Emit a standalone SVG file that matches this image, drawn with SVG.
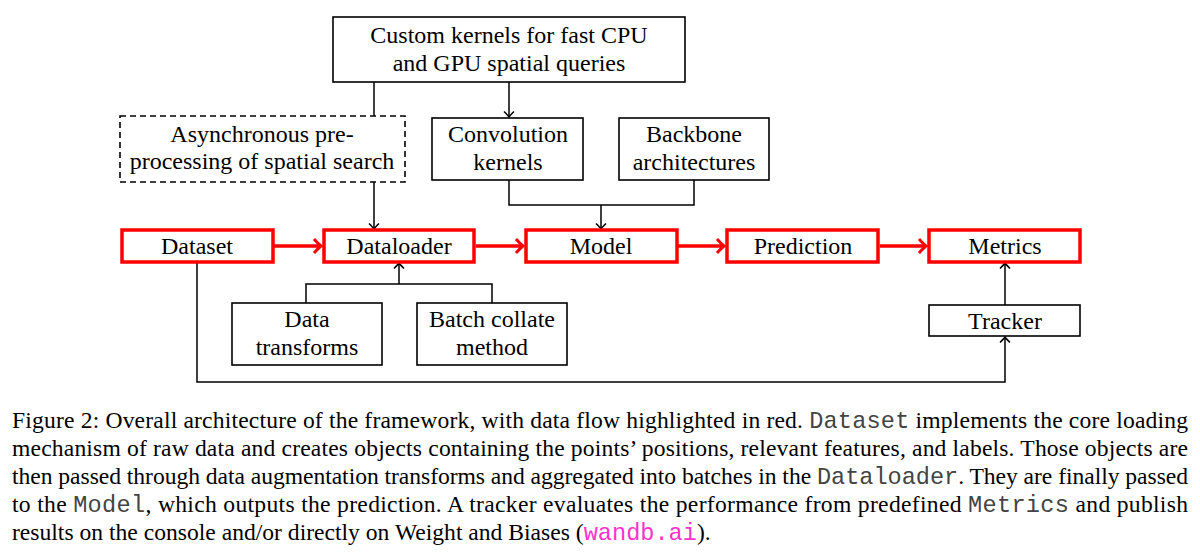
<svg xmlns="http://www.w3.org/2000/svg" width="1200" height="560" viewBox="0 0 1200 560">
<style>
.box{fill:#fff;stroke:#000;stroke-width:1.6}
.dash{fill:#fff;stroke:#000;stroke-width:1.6;stroke-dasharray:6 4}
.red{fill:#fff;stroke:#ff0000;stroke-width:3.5}
.t{font-family:"Liberation Serif","Times New Roman",serif;font-size:24px;fill:#000;text-anchor:middle}
.c{font-family:"Liberation Serif","Times New Roman",serif;font-size:23.6px;fill:#000}
.m{font-family:"Liberation Mono","Courier New",monospace;fill:#444}
.pk{fill:#ff33cc}
.bl{fill:none;stroke:#000;stroke-width:1.5}
.rl{fill:none;stroke:#ff0000;stroke-width:3.5}
</style>
<defs>
<marker id="ab" markerUnits="userSpaceOnUse" markerWidth="14" markerHeight="14" viewBox="-8 -7 10 14" refX="0" refY="0" orient="auto">
<path d="M-5.5,-5 Q-1.5,-1 0,0 Q-1.5,1 -5.5,5" fill="none" stroke="#000" stroke-width="1.5"/>
</marker>
<marker id="ar" markerUnits="userSpaceOnUse" markerWidth="16" markerHeight="18" viewBox="-10 -9 12 18" refX="0" refY="0" orient="auto">
<path d="M-7,-7 Q-2,-1.5 0,0 Q-2,1.5 -7,7" fill="none" stroke="#ff0000" stroke-width="3"/>
</marker>
</defs>
<rect width="1200" height="560" fill="#fff"/>
<g id="connectors">
<path class="bl" d="M374,82 V116"/>
<path class="bl" d="M374,182 V229" marker-end="url(#ab)"/>
<path class="bl" d="M509,82 V117" marker-end="url(#ab)"/>
<path class="bl" d="M509,180 V205 H694 V180 M601,205 V229" marker-end="url(#ab)"/>
<path class="bl" d="M306,303 V284 H492 V303 M399,284 V263" marker-end="url(#ab)"/>
<path class="bl" d="M197,262 V382 H1005 V337" marker-end="url(#ab)"/>
<path class="bl" d="M1005,305 V263" marker-end="url(#ab)"/>
<path class="rl" d="M274,246 H321" marker-end="url(#ar)"/>
<path class="rl" d="M476,246 H523" marker-end="url(#ar)"/>
<path class="rl" d="M678,246 H724" marker-end="url(#ar)"/>
<path class="rl" d="M880,246 H926" marker-end="url(#ar)"/>
</g>
<g id="custom"><rect class="box" x="333" y="17" width="352" height="65"/>
<text class="t" x="509" y="43">Custom kernels for fast CPU</text><text class="t" x="509" y="71">and GPU spatial queries</text></g>
<g id="async"><rect class="dash" x="120" y="116" width="285" height="66"/>
<text class="t" x="262" y="142">Asynchronous pre-</text><text class="t" x="262" y="169">processing of spatial search</text></g>
<g id="conv"><rect class="box" x="432" y="118" width="151" height="62"/>
<text class="t" x="508" y="142">Convolution</text><text class="t" x="508" y="170">kernels</text></g>
<g id="backbone"><rect class="box" x="619" y="118" width="150" height="62"/>
<text class="t" x="694" y="142">Backbone</text><text class="t" x="694" y="170">architectures</text></g>
<g id="dataset"><rect class="red" x="122" y="230" width="151" height="32"/><text class="t" x="197" y="254">Dataset</text></g>
<g id="dataloader"><rect class="red" x="324" y="230" width="150" height="32"/><text class="t" x="399" y="254">Dataloader</text></g>
<g id="model"><rect class="red" x="526" y="230" width="151" height="32"/><text class="t" x="601" y="254">Model</text></g>
<g id="prediction"><rect class="red" x="727" y="230" width="151" height="32"/><text class="t" x="803" y="254">Prediction</text></g>
<g id="metrics"><rect class="red" x="929" y="230" width="151" height="32"/><text class="t" x="1005" y="254">Metrics</text></g>
<g id="transforms"><rect class="box" x="232" y="303" width="150" height="62"/>
<text class="t" x="307" y="327">Data</text><text class="t" x="307" y="355">transforms</text></g>
<g id="collate"><rect class="box" x="417" y="303" width="150" height="62"/>
<text class="t" x="492" y="327">Batch collate</text><text class="t" x="492" y="355">method</text></g>
<g id="tracker"><rect class="box" x="929" y="305" width="151" height="31"/><text class="t" x="1005" y="329">Tracker</text></g>
<g id="caption">
<text class="c" x="12" y="428" textLength="1176" lengthAdjust="spacing">Figure 2: Overall architecture of the framework, with data flow highlighted in red. <tspan class="m">Dataset</tspan> implements the core loading</text>
<text class="c" x="12" y="456" textLength="1176" lengthAdjust="spacing">mechanism of raw data and creates objects containing the points’ positions, relevant features, and labels. Those objects are</text>
<text class="c" x="12" y="484" textLength="1176" lengthAdjust="spacing">then passed through data augmentation transforms and aggregated into batches in the <tspan class="m">Dataloader</tspan>. They are finally passed</text>
<text class="c" x="12" y="512" textLength="1176" lengthAdjust="spacing">to the <tspan class="m">Model</tspan>, which outputs the prediction. A tracker evaluates the performance from predefined <tspan class="m">Metrics</tspan> and publish</text>
<text class="c" x="12" y="540">results on the console and/or directly on Weight and Biases (<tspan class="m pk">wandb.ai</tspan>).</text>
</g>
</svg>
